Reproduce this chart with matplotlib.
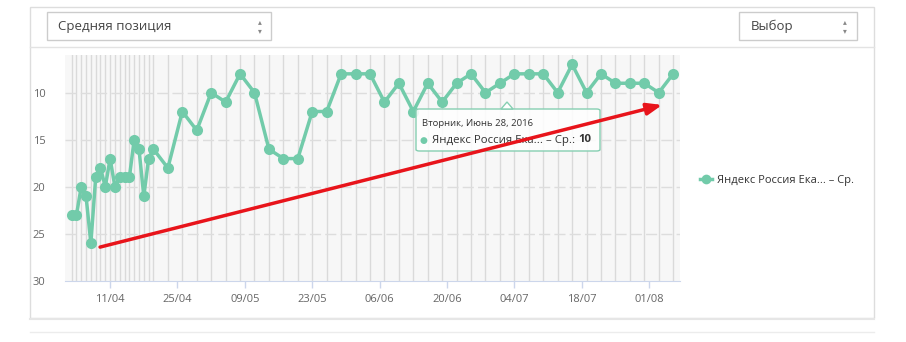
import numpy as np
import matplotlib
matplotlib.use("Agg")
from matplotlib import pyplot as plt
import matplotlib.dates as mdates
from matplotlib.patches import Rectangle, FancyBboxPatch, Polygon
from matplotlib.lines import Line2D

# Data: dates and average position
dates = np.array(
    ["2016-04-03", "2016-04-04", "2016-04-05", "2016-04-06", "2016-04-07", "2016-04-08",
     "2016-04-09", "2016-04-10", "2016-04-11", "2016-04-12", "2016-04-13", "2016-04-14",
     "2016-04-15", "2016-04-16", "2016-04-17", "2016-04-18", "2016-04-19", "2016-04-20",
     "2016-04-23", "2016-04-26", "2016-04-29", "2016-05-02", "2016-05-05", "2016-05-08",
     "2016-05-11", "2016-05-14", "2016-05-17", "2016-05-20", "2016-05-23", "2016-05-26",
     "2016-05-29", "2016-06-01", "2016-06-04", "2016-06-07", "2016-06-10", "2016-06-13",
     "2016-06-16", "2016-06-19", "2016-06-22", "2016-06-25", "2016-06-28", "2016-07-01",
     "2016-07-04", "2016-07-07", "2016-07-10", "2016-07-13", "2016-07-16", "2016-07-19",
     "2016-07-22", "2016-07-25", "2016-07-28", "2016-07-31", "2016-08-03", "2016-08-06"],
    dtype="datetime64[D]")
positions = [23, 23, 20, 21, 26, 19, 18, 20, 17, 20, 19, 19,
             19, 15, 16, 21, 17, 16, 18, 12, 14, 10, 11, 8,
             10, 16, 17, 17, 12, 12, 8, 8, 8, 11, 9, 12,
             9, 11, 9, 8, 10, 9, 8, 8, 8, 10, 7, 10,
             8, 9, 9, 9, 10, 8]

tickDates = np.array(["2016-04-11", "2016-04-25", "2016-05-09", "2016-05-23", "2016-06-06",
                      "2016-06-20", "2016-07-04", "2016-07-18", "2016-08-01"], dtype="datetime64[D]")
yTicks = [10, 15, 20, 25, 30]

seriesName = "Яндекс Россия Ека... – Ср."
selectLeft = "Средняя позиция"
selectRight = "Выбор"
tooltipDate = "Вторник, Июнь 28, 2016"
tooltipValue = "10"

lineColor = "#72cbaa"
textColor = "#666666"
plt.rcParams['font.family'] = ['Open Sans', 'DejaVu Sans']

W, H = 906, 342
fig = plt.figure(figsize=(W / 100, H / 100), dpi=100)
fig.patch.set_facecolor("white")


def px(x, y):
    """Pixel position to figure fraction"""
    return x / W, 1 - y / H


def rect(x0, y0, x1, y1, **kw):
    fig.add_artist(Rectangle(px(x0, y1), (x1 - x0) / W, (y1 - y0) / H,
                             transform=fig.transFigure, zorder=-5, **kw))


def hline(x0, x1, y, color, lw=1):
    fig.add_artist(Line2D([x0 / W, x1 / W], [1 - y / H, 1 - y / H],
                          transform=fig.transFigure, color=color, lw=lw, zorder=-4))


# Card, header and select boxes
rect(30, 7, 874, 318, facecolor="white", edgecolor="#dddddd", lw=1)
hline(30, 874, 319, "#e6e6e6", 1.5)
hline(30, 874, 46.5, "#e3e3e3")
hline(30, 874, 331.5, "#ececec")
rect(46.5, 12, 270.5, 40, facecolor="white", edgecolor="#cccccc", lw=1)
rect(738.5, 12, 856.5, 40, facecolor="white", edgecolor="#cccccc", lw=1)
fig.text(*px(58, 26.5), selectLeft, fontsize=9.5, color="#444444", va="center")
fig.text(*px(751, 26.5), selectRight, fontsize=9.5, color="#444444", va="center")
for xa in (260, 845):
    fig.text(*px(xa, 22), "▴", fontsize=5.5, color="#888888", ha="center", va="center",
             family="DejaVu Sans")
    fig.text(*px(xa, 30.5), "▾", fontsize=5.5, color="#888888", ha="center", va="center",
             family="DejaVu Sans")

# Plot area
left, right, top, bottom = 65, 680, 55, 281
ax = fig.add_axes([left / W, 1 - bottom / H, (right - left) / W, (bottom - top) / H])
ax.set_facecolor("#f7f7f7")
for d in dates:
    ax.axvline(d, color="#dadada", lw=1, zorder=1)
for v in yTicks[:-1]:
    ax.axhline(v, color="#dddddd", lw=1, linestyle=(0, (8, 3)), zorder=1.5)

ax.plot(dates, positions, color=lineColor, lw=2.5, marker="o", markersize=8,
        markeredgewidth=0, zorder=3)

ax.set_xlim(np.datetime64("2016-04-01T15:00"), np.datetime64("2016-08-07T10:00"))
ax.set_ylim(30, 6)
ax.set_yticks(yTicks)
ax.set_xticks(tickDates)
ax.xaxis.set_major_formatter(mdates.DateFormatter("%d/%m"))
ax.tick_params(axis="y", length=0, pad=14, labelsize=8, labelcolor=textColor)
ax.tick_params(axis="x", length=5, width=1, color="#ccd6eb", pad=4, labelsize=8,
               labelcolor=textColor)
for s in ("top", "right", "left"):
    ax.spines[s].set_visible(False)
ax.spines["bottom"].set_color("#ccd6eb")

# Tooltip (inside the axes so the red arrow can sit on top of it)
tf = fig.transFigure
tip = FancyBboxPatch(px(416, 151), 184 / W, 42 / H, boxstyle="round,pad=0,rounding_size=0.004",
                     transform=tf, facecolor=(1, 1, 1, 0.85),
                     edgecolor="#86cfb2", lw=1, zorder=10, clip_on=False)
ax.add_patch(tip)
ax.add_patch(Polygon([px(501, 109), px(507, 102), px(513, 109)], closed=True,
                     transform=tf, facecolor="white", edgecolor="#86cfb2",
                     lw=1, zorder=10, clip_on=False))
ax.text(*px(422, 124), tooltipDate, transform=tf, fontsize=6.8, color="#333333",
        va="center", zorder=11)
ax.text(*px(420, 140), "●", transform=tf, fontsize=6.5, color=lineColor, va="center",
        zorder=11, family="DejaVu Sans")
ax.text(*px(432, 140), seriesName + ":", transform=tf, fontsize=8.2, color="#333333",
        va="center", zorder=11)
ax.text(*px(578, 140), tooltipValue, transform=tf, fontsize=8.2, color="#333333",
        va="center", fontweight="bold", zorder=11)

# Red arrow drawn on top of the screenshot
ax.annotate("", xy=(0.971, 0.779), xytext=(0.057, 0.150), xycoords="axes fraction",
            arrowprops=dict(arrowstyle="-|>,head_length=0.9,head_width=0.35",
                            color="#e8141b", lw=2.5, shrinkA=0, shrinkB=0), zorder=12)

# Legend
fig.legend(handles=[Line2D([], [], color=lineColor, lw=2.5, marker="o", markersize=7,
                           markeredgewidth=0)],
           labels=[seriesName], loc="center left", bbox_to_anchor=px(690, 180),
           frameon=False, fontsize=8, handlelength=1.1, handletextpad=0.4,
           labelcolor="#333333")

fig.savefig("out.png", dpi=100)
